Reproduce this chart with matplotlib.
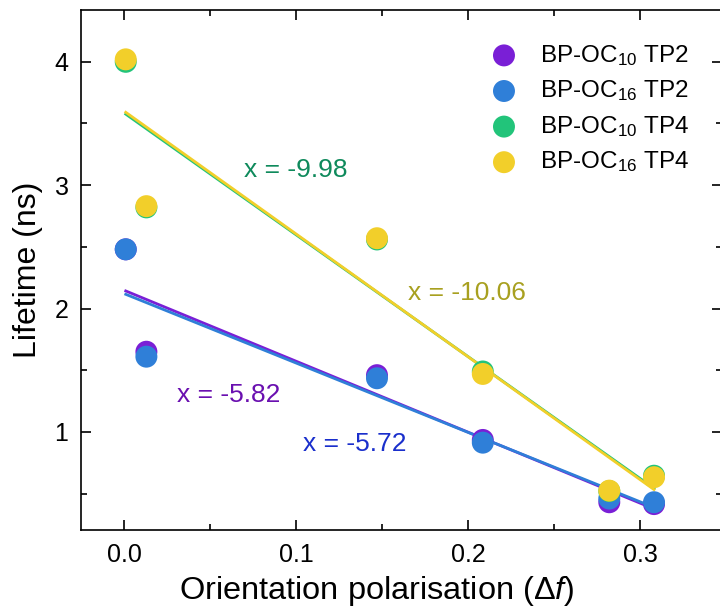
import numpy as np
import matplotlib
matplotlib.use("Agg")
from matplotlib import pyplot as plt
from matplotlib.ticker import MultipleLocator

plt.rcParams['font.family'] = ['Liberation Sans', 'DejaVu Sans']
plt.rcParams['mathtext.fontset'] = 'custom'
plt.rcParams['mathtext.rm'] = 'Liberation Sans'
plt.rcParams['mathtext.it'] = 'Liberation Sans:italic'
plt.rcParams['mathtext.default'] = 'regular'

# orientation polarisation (delta f) of the solvents
delta_f = [0.001, 0.013, 0.147, 0.2085, 0.282, 0.308]

# lifetimes (ns)
oc10_tp2 = [2.48, 1.65, 1.46, 0.935, 0.43, 0.415]
oc16_tp2 = [2.48, 1.61, 1.435, 0.913, 0.46, 0.43]
oc10_tp4 = [4.00, 2.82, 2.56, 1.49, 0.52, 0.645]
oc16_tp4 = [4.02, 2.83, 2.57, 1.47, 0.524, 0.633]

labels = [r'BP-OC$_{10}$ TP2', r'BP-OC$_{16}$ TP2',
          r'BP-OC$_{10}$ TP4', r'BP-OC$_{16}$ TP4']
slope_text = ['x = -5.82', 'x = -5.72', 'x = -9.98', 'x = -10.06']
text_pos = [(0.061, 1.30), (0.134, 0.90), (0.100, 3.12), (0.199, 2.13)]

colors = ['#7a1fd6', '#2f7fd8', '#22c47a', '#f2cf2a']
text_colors = ['#6a10b0', '#1a2fcc', '#0f8a5c', '#a8a020']

fig = plt.figure(figsize=(7.2, 6.12), dpi=100)
ax = fig.add_axes([81 / 720, 1 - 530 / 612, (722 - 81) / 720, 520 / 612])

x = np.array(delta_f)
series = [oc10_tp2, oc16_tp2, oc10_tp4, oc16_tp4]
for y, c, lab in zip(series, colors, labels):
    ax.scatter(x, y, s=250, color=c, edgecolors='none', label=lab, zorder=3)

for y, c in zip(series, colors):
    k, b = np.polyfit(x, y, 1)
    xx = np.array([x.min(), x.max()])
    ax.plot(xx, k * xx + b, color=c, lw=2.0, zorder=2)

for t, (tx, ty), c in zip(slope_text, text_pos, text_colors):
    ax.text(tx, ty, t, color=c, fontsize=19, ha='center', va='center')

ax.set_xlim(-0.025, 0.3475)
ax.set_ylim(0.205, 4.42)
ax.xaxis.set_major_locator(MultipleLocator(0.1))
ax.xaxis.set_minor_locator(MultipleLocator(0.05))
ax.yaxis.set_major_locator(MultipleLocator(1))
ax.yaxis.set_minor_locator(MultipleLocator(0.5))
ax.tick_params(which='both', direction='in', top=True, right=True,
               labeltop=False, labelright=False, width=1.2)
ax.tick_params(which='major', length=7, labelsize=18, pad=9)
ax.tick_params(which='minor', length=4)
ax.set_xticks([0.0, 0.1, 0.2, 0.3])
ax.set_xticklabels(['0.0', '0.1', '0.2', '0.3'])
for s in ax.spines.values():
    s.set_linewidth(1.2)

ax.set_xlabel(r'Orientation polarisation ($\Delta \mathit{f}$)', fontsize=23.4, labelpad=8)
ax.xaxis.set_label_coords(0.462, -0.085)
ax.set_ylabel('Lifetime (ns)', fontsize=23, labelpad=8)

ax.legend(loc='upper right', bbox_to_anchor=(0.972, 0.965), frameon=False,
          fontsize=17.5, handletextpad=0.5, labelspacing=0.44, scatterpoints=1,
          borderaxespad=0.2)

fig.savefig('out.png', dpi=100)
